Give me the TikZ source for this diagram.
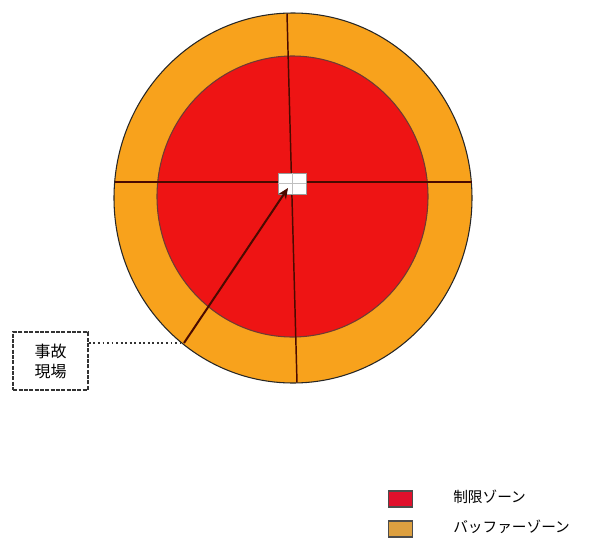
\documentclass[tikz,border=0pt]{standalone}
\usepackage{fontspec}
\newfontfamily\jpfont{Noto Sans CJK JP}
\usetikzlibrary{arrows.meta}
\definecolor{ringorange}{HTML}{F8A21C}
\definecolor{zonered}{HTML}{EE1414}
\definecolor{legorange}{HTML}{DDA040}
\definecolor{legred}{HTML}{E0102C}
\definecolor{linedark}{HTML}{4A0A00}
\tikzset{
  crossline/.style={draw=linedark, line width=1.1pt},
  legbox/.style={draw=black!70, line width=0.9pt, minimum width=18pt, minimum height=12pt, inner sep=0pt},
  legtext/.style={font=\jpfont\fontsize{11}{13}\selectfont, anchor=west, inner sep=0pt},
  sitebox/.style={draw=black!80, line width=1.6pt, dash pattern=on 3pt off 1pt, minimum width=56pt, minimum height=43pt, align=center, font=\jpfont\fontsize{12}{15}\selectfont}
}
\begin{document}
\begin{tikzpicture}[x=0.75pt,y=-0.75pt]
\useasboundingbox (0,0) rectangle (597,543);
% zones
\fill[ringorange, draw=black!85, line width=0.8pt] (293,198) ellipse [x radius=179, y radius=185];
\fill[zonered, draw=linedark!80, line width=0.8pt] (292.5,196.5) ellipse [x radius=135.5, y radius=140.5];
% cross lines
\coordinate (hl) at (114.5,182);
\coordinate (hr) at (471.5,182);
\coordinate (vt) at (287,13.5);
\coordinate (vb) at (297,382.5);
\draw[crossline] (hl) -- (hr);
\draw[crossline] (vt) -- (vb);
% centre marker
\node[draw=black!40, fill=white, minimum width=21pt, minimum height=15.5pt, inner sep=0pt] (ctr) at (292,183.5) {};
\draw[black!25, line width=0.6pt] (ctr.north) -- (ctr.south) (ctr.west) -- (ctr.east);
% accident site
\coordinate (lead) at (184,343);
\draw[linedark, line width=1.5pt, -{Stealth[length=8pt,width=7pt]}] (lead) -- (288,188);
\node[sitebox] (site) at (50.5,361) {事故\\現場};
\draw[black!80, line width=1.4pt, dotted] (site.east |- lead) -- (lead);
% legend
\node[legbox, fill=legred] (lr) at (400.5,499) {};
\node[legbox, fill=legorange] (lo) at (400.5,529) {};
\node[legtext] (tr) at (453,497) {制限ゾーン};
\node[legtext] (to) at (453,527) {バッファーゾーン};
\end{tikzpicture}
\end{document}
